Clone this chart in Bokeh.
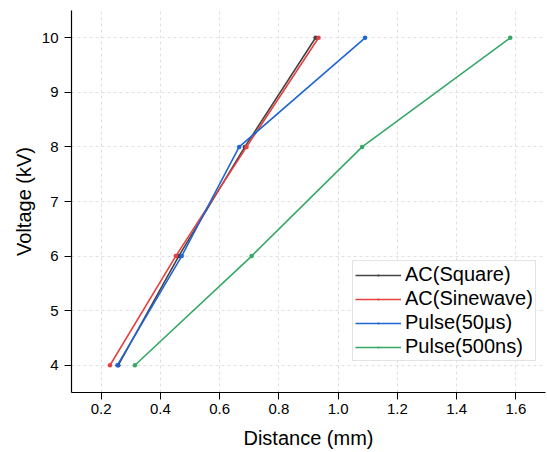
from bokeh.plotting import figure
from bokeh.models import Range1d, Legend, LegendItem, FixedTicker, NumeralTickFormatter
from bokeh.embed import file_html
from bokeh.resources import INLINE

voltage = [4, 6, 8, 10]
ac_square = [0.258, 0.462, 0.685, 0.924]
ac_sine = [0.230, 0.452, 0.691, 0.934]
pulse_50us = [0.255, 0.472, 0.666, 1.091]
pulse_500ns = [0.314, 0.708, 1.081, 1.581]

names = ["AC(Square)", "AC(Sinewave)", "Pulse(50μs)", "Pulse(500ns)"]
series = [ac_square, ac_sine, pulse_50us, pulse_500ns]
colors = ["#444444", "#e84040", "#1f66d4", "#35a865"]

x_ticks = [0.2, 0.4, 0.6, 0.8, 1.0, 1.2, 1.4, 1.6]
y_ticks = [4, 5, 6, 7, 8, 9, 10]

FONT = "Liberation Sans"

p = figure(width=547, height=452, output_backend="svg", toolbar_location=None,
           x_range=Range1d(0.1, 1.7), y_range=Range1d(3.5, 10.5),
           min_border_left=71, min_border_right=2, min_border_top=10, min_border_bottom=60)
p.outline_line_color = None
p.background_fill_color = "white"

items = []
for name, xs, c in zip(names, series, colors):
    r1 = p.line(xs, voltage, line_color=c, line_width=1.6)
    r2 = p.scatter(xs, voltage, marker="dot", size=18, fill_color=c, line_color=c, line_width=1)
    items.append(LegendItem(label=name, renderers=[r1, r2]))

legend = Legend(items=items, location=(281, 31))
legend.label_text_font = FONT
legend.label_text_font_size = "20px"
legend.label_text_color = "black"
legend.glyph_width = 46
legend.glyph_height = 22
legend.label_height = 22
legend.spacing = 1
legend.padding = 2
legend.margin = 0
legend.label_standoff = 4
legend.border_line_color = "#c8c8c8"
legend.border_line_width = 1
legend.background_fill_alpha = 1.0
p.add_layout(legend, "center")

for ax in (p.xaxis[0], p.yaxis[0]):
    ax.axis_line_color = "black"
    ax.axis_line_width = 1.2
    ax.major_tick_line_color = "black"
    ax.major_tick_out = 7
    ax.major_tick_in = 0
    ax.minor_tick_out = 0
    ax.minor_tick_in = 0
    ax.major_label_text_font = FONT
    ax.major_label_text_font_size = "15px"
    ax.major_label_text_color = "black"
    ax.axis_label_text_font = FONT
    ax.axis_label_text_font_size = "20px"
    ax.axis_label_text_font_style = "normal"
    ax.axis_label_text_color = "black"

p.xaxis[0].ticker = FixedTicker(ticks=x_ticks)
p.xaxis[0].formatter = NumeralTickFormatter(format="0.0")
p.yaxis[0].ticker = FixedTicker(ticks=y_ticks)
p.xaxis[0].axis_label = "Distance (mm)"
p.yaxis[0].axis_label = "Voltage (kV)"
p.xaxis[0].major_label_standoff = 4
p.xaxis[0].axis_label_standoff = 10
p.yaxis[0].major_label_standoff = 6
p.yaxis[0].axis_label_standoff = 4

for g in (p.xgrid[0], p.ygrid[0]):
    g.grid_line_color = "#e0e0e0"
    g.grid_line_dash = "3 3"
    g.grid_line_width = 1
p.xgrid[0].ticker = FixedTicker(ticks=x_ticks)
p.ygrid[0].ticker = FixedTicker(ticks=y_ticks)

open("out.html", "w").write(file_html(p, INLINE))
